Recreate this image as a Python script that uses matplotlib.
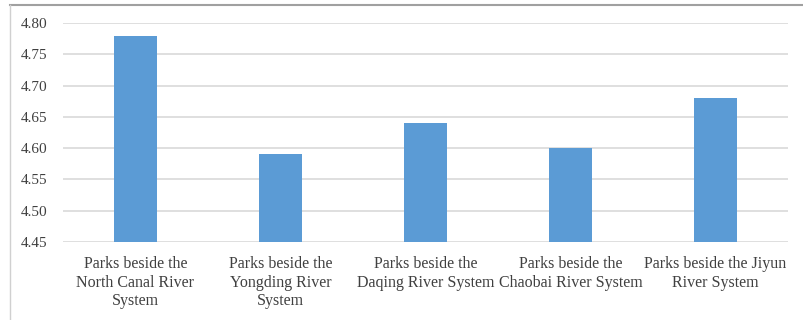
import matplotlib
matplotlib.use("Agg")
import matplotlib.pyplot as plt
from matplotlib.lines import Line2D

categories = [
    "Parks beside the\nNorth Canal River\nSystem",
    "Parks beside the\nYongding River\nSystem",
    "Parks beside the\nDaqing River System",
    "Parks beside the\nChaobai River System",
    "Parks beside the Jiyun\nRiver System",
]
values = [4.78, 4.59, 4.64, 4.60, 4.68]
yticks = [4.45, 4.50, 4.55, 4.60, 4.65, 4.70, 4.75, 4.80]

plt.rcParams["font.family"] = ["Liberation Serif", "DejaVu Serif"]

W, H = 804, 320
fig = plt.figure(figsize=(W / 100, H / 100), dpi=100)
ax = fig.add_axes([63 / W, 1 - 242 / H, (788 - 63) / W, (242 - 23) / H])

x = list(range(len(categories)))
ax.bar(x, [v - yticks[0] for v in values], bottom=yticks[0], width=0.30,
       color="#5B9BD5", zorder=3)

ax.set_ylim(yticks[0], yticks[-1])
ax.set_xlim(-0.5, len(categories) - 0.5)
ax.set_yticks(yticks)
ax.set_yticklabels([f"{t:.2f}" for t in yticks])
ax.set_xticks(x)
ax.set_xticklabels(categories, linespacing=1.22)

ax.grid(axis="y", color="#D9D9D9", linewidth=1.2, zorder=0)
for s in ax.spines.values():
    s.set_visible(False)
ax.tick_params(axis="both", length=0, labelsize=11.5, colors="#404040")
ax.tick_params(axis="y", labelsize=11, pad=11)
ax.tick_params(axis="x", pad=10)

# outer chart frame (top and left edges)
fig.add_artist(Line2D([10 / W, 1.0], [1 - 5 / H, 1 - 5 / H],
                      transform=fig.transFigure, color="#A0A0A0", linewidth=1.5))
fig.add_artist(Line2D([10 / W, 10 / W], [0, 1 - 5 / H],
                      transform=fig.transFigure, color="#D0D0D0", linewidth=1.0))

fig.savefig("out.png", dpi=100)
